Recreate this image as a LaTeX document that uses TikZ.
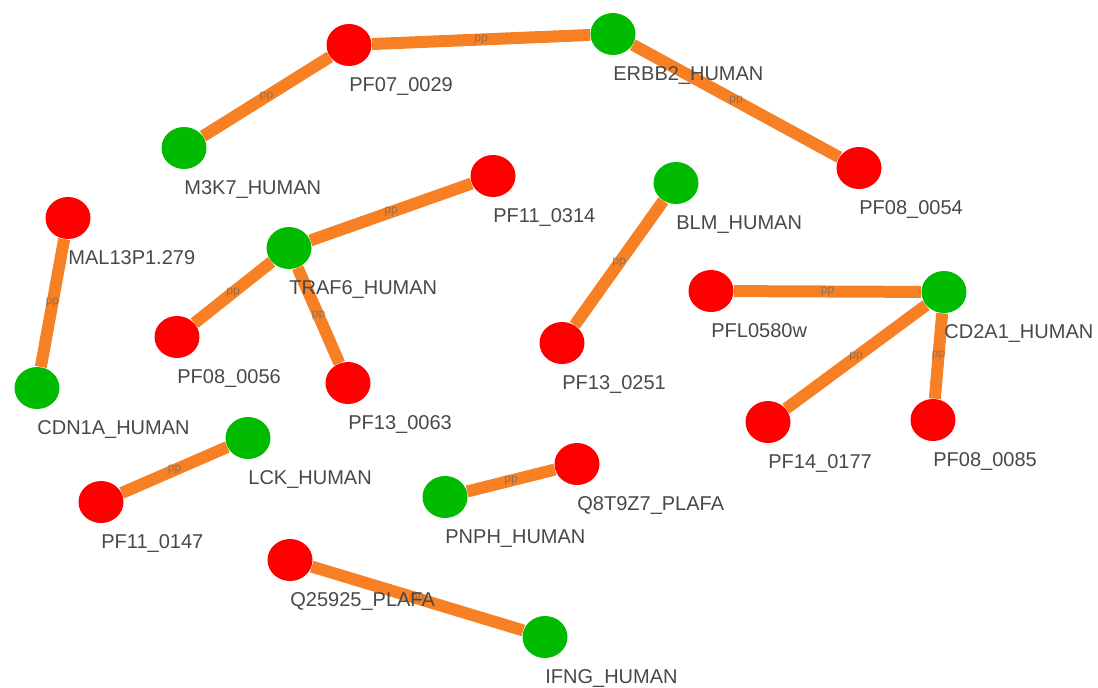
\documentclass[tikz,border=0pt]{standalone}
\usepackage{fontspec}
\setmainfont{Liberation Sans}
\usetikzlibrary{shapes.geometric, backgrounds}
\definecolor{ppred}{RGB}{255,0,0}
\definecolor{ppgreen}{RGB}{0,187,0}
\definecolor{pporange}{RGB}{248,128,36}
\definecolor{lblgray}{RGB}{72,72,72}

\begin{document}
\begin{tikzpicture}[x=0.5pt, y=-0.5pt,
		plasmo/.style={ellipse, fill=ppred, minimum width=22.5pt, minimum height=21pt, inner sep=0pt},
		human/.style={plasmo, fill=ppgreen},
		lbl/.style={anchor=base west, inner sep=0pt, yshift=-12.5pt, text=lblgray, font=\fontsize{10}{12}\selectfont},
		ppi/.style={line width=6pt, draw=pporange},
		pp/.style={font=\fontsize{6}{7}\selectfont, text=black!60, opacity=0.7, inner sep=0pt}]
		\useasboundingbox (0,0) rectangle (1098,687);
		% proteins
		\node[plasmo, label={[lbl]south:PF07\_0029}] (pf07) at (349,45) {};
		\node[human, label={[lbl]south:ERBB2\_HUMAN}] (erbb2) at (613,34) {};
		\node[human, label={[lbl]south:M3K7\_HUMAN}] (m3k7) at (184,148) {};
		\node[plasmo, label={[lbl]south:PF08\_0054}] (pf0854) at (859,168) {};
		\node[plasmo, label={[lbl]south:PF11\_0314}] (pf1114) at (493,176) {};
		\node[human, label={[lbl]south:BLM\_HUMAN}] (blm) at (676,183) {};
		\node[plasmo, label={[lbl]south:MAL13P1.279}] (mal13) at (68,218) {};
		\node[human, label={[lbl]south:TRAF6\_HUMAN}] (traf6) at (289,248) {};
		\node[plasmo, label={[lbl]south:PFL0580w}] (pfl0580) at (711,291) {};
		\node[human, label={[lbl]south:CD2A1\_HUMAN}] (cd2a1) at (944,292) {};
		\node[plasmo, label={[lbl]south:PF13\_0251}] (pf1351) at (562,343) {};
		\node[plasmo, label={[lbl]south:PF08\_0056}] (pf0856) at (177,337) {};
		\node[plasmo, label={[lbl]south:PF13\_0063}] (pf1363) at (348,383) {};
		\node[human, label={[lbl]south:CDN1A\_HUMAN}] (cdn1a) at (37,388) {};
		\node[plasmo, label={[lbl]south:PF14\_0177}] (pf1477) at (768,422) {};
		\node[plasmo, label={[lbl]south:PF08\_0085}] (pf0885) at (933,420) {};
		\node[human, label={[lbl]south:LCK\_HUMAN}] (lck) at (248,438) {};
		\node[plasmo, label={[lbl]south:PF11\_0147}] (pf1147) at (101,502) {};
		\node[plasmo, label={[lbl]south:Q8T9Z7\_PLAFA}] (q8t9) at (577,464) {};
		\node[human, label={[lbl]south:PNPH\_HUMAN}] (pnph) at (445,497) {};
		\node[plasmo, label={[lbl]south:Q25925\_PLAFA}] (q259) at (290,560) {};
		\node[human, label={[lbl]south:IFNG\_HUMAN}] (ifng) at (545,637) {};
		% interactions
		\begin{scope}[on background layer]
			\draw[ppi] (pf07) -- node[pp] {pp} (erbb2);
			\draw[ppi] (m3k7) -- node[pp] {pp} (pf07);
			\draw[ppi] (erbb2) -- node[pp] {pp} (pf0854);
			\draw[ppi] (traf6) -- node[pp] {pp} (pf1114);
			\draw[ppi] (traf6) -- node[pp] {pp} (pf0856);
			\draw[ppi] (traf6) -- node[pp] {pp} (pf1363);
			\draw[ppi] (mal13) -- node[pp] {pp} (cdn1a);
			\draw[ppi] (blm) -- node[pp] {pp} (pf1351);
			\draw[ppi] (pfl0580) -- node[pp] {pp} (cd2a1);
			\draw[ppi] (cd2a1) -- node[pp] {pp} (pf1477);
			\draw[ppi] (cd2a1) -- node[pp] {pp} (pf0885);
			\draw[ppi] (pf1147) -- node[pp] {pp} (lck);
			\draw[ppi] (pnph) -- node[pp] {pp} (q8t9);
			\draw[ppi] (q259) -- node[pp] {pp} (ifng);
		\end{scope}
	\end{tikzpicture}
\end{document}
